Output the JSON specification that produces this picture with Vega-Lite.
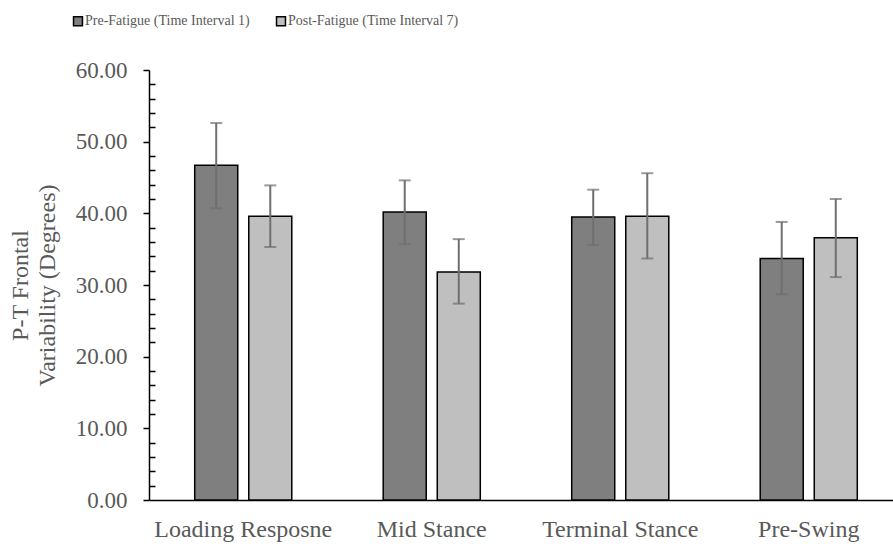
{
  "$schema": "https://vega.github.io/schema/vega-lite/v6.json",
  "autosize": {"type": "none"},
  "padding": {"left": 149, "top": 70, "right": 0, "bottom": 44},
  "width": 754,
  "height": 430,
  "background": "white",
  "config": {
    "view": {"stroke": null},
    "font": "Liberation Serif",
    "axis": {"labelOverlap": false},
    "axisY": {"labelOverlap": false}
  },
  "data": {
    "values": [
      {"phase": "Loading Resposne", "condition": "Pre-Fatigue (Time Interval 1)", "mean": 46.7, "lo": 40.7, "hi": 52.6},
      {"phase": "Loading Resposne", "condition": "Post-Fatigue (Time Interval 7)", "mean": 39.6, "lo": 35.3, "hi": 43.9},
      {"phase": "Mid Stance", "condition": "Pre-Fatigue (Time Interval 1)", "mean": 40.2, "lo": 35.7, "hi": 44.6},
      {"phase": "Mid Stance", "condition": "Post-Fatigue (Time Interval 7)", "mean": 31.8, "lo": 27.4, "hi": 36.4},
      {"phase": "Terminal Stance", "condition": "Pre-Fatigue (Time Interval 1)", "mean": 39.5, "lo": 35.6, "hi": 43.3},
      {"phase": "Terminal Stance", "condition": "Post-Fatigue (Time Interval 7)", "mean": 39.6, "lo": 33.7, "hi": 45.6},
      {"phase": "Pre-Swing", "condition": "Pre-Fatigue (Time Interval 1)", "mean": 33.7, "lo": 28.7, "hi": 38.8},
      {"phase": "Pre-Swing", "condition": "Post-Fatigue (Time Interval 7)", "mean": 36.6, "lo": 31.1, "hi": 42.0}
    ]
  },
  "encoding": {
    "x": {
      "field": "phase", "type": "nominal", "sort": null,
      "scale": {"paddingInner": 0.485, "paddingOuter": 0.2425},
      "axis": {
        "title": null, "labelAngle": 0, "ticks": false,
        "domainColor": "black", "domainWidth": 1.5,
        "labelFont": "Liberation Serif", "labelFontSize": 24, "labelColor": "#595959",
        "labelPadding": 17
      }
    },
    "xOffset": {
      "field": "condition", "type": "nominal", "sort": null,
      "scale": {"paddingInner": 0.204, "paddingOuter": 0}
    }
  },
  "layer": [
    {
      "mark": {"type": "bar", "stroke": "black", "strokeWidth": 1.5},
      "encoding": {
        "y": {
          "field": "mean", "type": "quantitative",
          "scale": {"domain": [0, 60], "nice": false},
          "axis": {
            "title": ["P-T Frontal", "Variability (Degrees)"],
            "titleFont": "Liberation Serif", "titleFontSize": 24, "titleFontWeight": "normal",
            "titleColor": "#595959", "titleLineHeight": 27, "titlePadding": 16,
            "values": [0,2,4,6,8,10,12,14,16,18,20,22,24,26,28,30,32,34,36,38,40,42,44,46,48,50,52,54,56,58,60],
            "tickCount": 100,
            "labelOverlap": false,
            "labelExpr": "datum.value % 10 === 0 ? format(datum.value, '.2f') : ''",
            "tickSize": {"condition": {"test": "datum.value % 10 === 0", "value": 6}, "value": -6},
            "tickColor": "black", "tickWidth": 1.5,
            "domainColor": "black", "domainWidth": 1.5,
            "grid": false,
            "labelFont": "Liberation Serif", "labelFontSize": 23, "labelColor": "#595959",
            "labelPadding": 16
          }
        },
        "fill": {
          "field": "condition", "type": "nominal", "sort": null,
          "scale": {"range": ["#7f7f7f", "#bfbfbf"]},
          "legend": {
            "title": null, "orient": "none", "direction": "horizontal",
            "legendX": -78, "legendY": -56,
            "symbolType": "square", "symbolSize": 80,
            "symbolStrokeColor": "black", "symbolStrokeWidth": 1.5,
            "labelFont": "Liberation Serif", "labelFontSize": 14, "labelColor": "#595959",
            "labelLimit": 0,
            "labelOffset": 0, "columnPadding": 23
          }
        }
      }
    },
    {
      "mark": {"type": "rule", "color": "#6f6f6f", "strokeWidth": 2},
      "encoding": {
        "y": {"field": "lo", "type": "quantitative"},
        "y2": {"field": "hi"}
      }
    },
    {
      "mark": {"type": "tick", "color": "#6f6f6f", "thickness": 2, "size": 12},
      "encoding": {
        "y": {"field": "lo", "type": "quantitative"}
      }
    },
    {
      "mark": {"type": "tick", "color": "#6f6f6f", "thickness": 2, "size": 12},
      "encoding": {
        "y": {"field": "hi", "type": "quantitative"}
      }
    }
  ]
}
